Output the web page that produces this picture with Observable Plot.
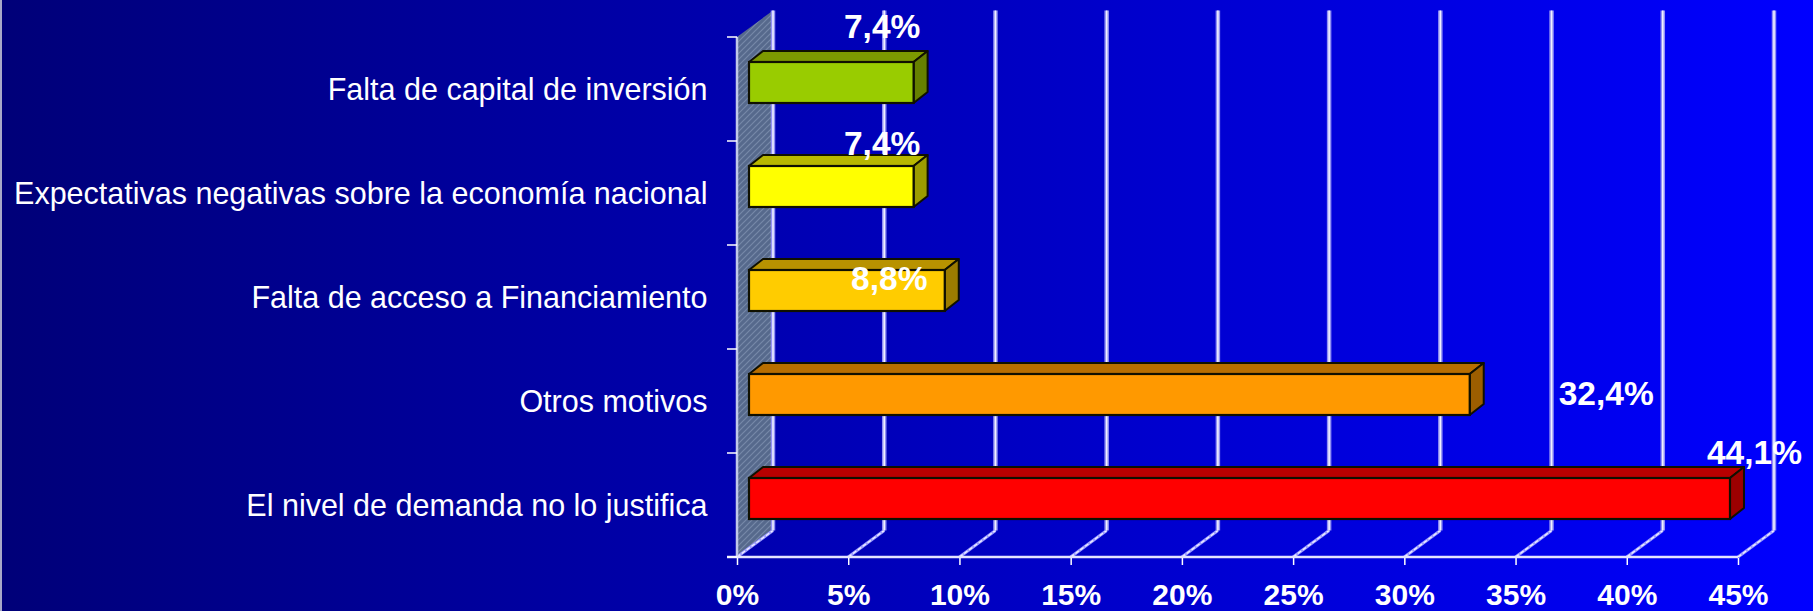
<!DOCTYPE html>
<html><head><meta charset="utf-8">
<script src="https://cdn.jsdelivr.net/npm/d3@7"></script>
<script src="https://cdn.jsdelivr.net/npm/@observablehq/plot@0.6"></script>
<style>
html,body{margin:0;padding:0;overflow:hidden;background:linear-gradient(to right,#000078,#0000ff);}
#chart svg{display:block;}
</style></head><body><div id="chart"></div>
<script>
// ---- data ----
const categories = [
  "Falta de capital de inversión",
  "Expectativas negativas sobre la economía nacional",
  "Falta de acceso a Financiamiento",
  "Otros motivos",
  "El nivel de demanda no lo justifica"
];
const values = [7.4, 7.4, 8.8, 32.4, 44.1];
const valueLabels = ["7,4%", "7,4%", "8,8%", "32,4%", "44,1%"];
const xTicks = [0, 5, 10, 15, 20, 25, 30, 35, 40, 45];
const xTickLabels = ["0%", "5%", "10%", "15%", "20%", "25%", "30%", "35%", "40%", "45%"];

// ---- styles ----
const frontColors = ["#99cc00", "#ffff00", "#ffcc00", "#ff9900", "#ff0000"];
const topColors   = ["#7d9900", "#b8b800", "#b89200", "#b86e00", "#b80000"];
const sideColors  = ["#668000", "#9c9c00", "#9c7c00", "#9c5e00", "#9c0000"];
// label nudges (px) relative to bar end / band centre, as placed in the original
const labelNudge = [[-20, -52], [-20, -38.5], [-44, -8], [148, 3], [36, -42]];

const WALL = {dx: 36, dy: -26.5};
const BAR = {dx: 12, dy: -6.5, h: 41, tdx: 14, tdy: -11};

const rows = categories.map((c, i) => ({category: c, value: values[i], label: valueLabels[i]}));

function scene(index, scales, channels, dims) {
  const x = scales.x, y = scales.y;
  const bw = typeof y.bandwidth === "function" ? y.bandwidth() : y.bandwidth;
  const yTop = y(categories[0]);
  const yBot = y(categories[categories.length - 1]) + bw;
  const x0 = x(0);
  const g = d3.create("svg:g");
  const defs = g.append("defs");
  const pat = defs.append("pattern").attr("id", "wallHatch").attr("patternUnits", "userSpaceOnUse")
    .attr("width", 6).attr("height", 6);
  pat.append("rect").attr("width", 6).attr("height", 6).attr("fill", "#56698c");
  pat.append("path").attr("d", "M0,6 L6,0 M-1.5,1.5 L1.5,-1.5 M4.5,7.5 L7.5,4.5")
    .attr("stroke", "#7688a8").attr("stroke-width", 1.2);

  // left thin border
  g.append("rect").attr("x", 0).attr("y", 0).attr("width", 2).attr("height", dims.height).attr("fill", "#a8a8c8");

  // side wall
  g.append("polygon")
    .attr("points", [[x0, yTop], [x0 + WALL.dx, yTop + WALL.dy], [x0 + WALL.dx, yBot + WALL.dy], [x0, yBot]].map(p => p.join(",")).join(" "))
    .attr("fill", "url(#wallHatch)");

  // gridlines
  for (const t of xTicks) {
    const xt = x(t);
    g.append("line").attr("x1", xt).attr("y1", yBot).attr("x2", xt + WALL.dx).attr("y2", yBot + WALL.dy)
      .attr("stroke", "#9c9cff").attr("stroke-width", 3);
    g.append("line").attr("x1", xt).attr("y1", yBot).attr("x2", xt + WALL.dx).attr("y2", yBot + WALL.dy)
      .attr("stroke", "#f0f0ff").attr("stroke-width", 1.3).attr("stroke-dasharray", "4 2");
    g.append("line").attr("x1", xt + WALL.dx).attr("y1", yBot + WALL.dy).attr("x2", xt + WALL.dx).attr("y2", yTop + WALL.dy)
      .attr("stroke", "#9090f4").attr("stroke-width", 4.5);
    g.append("line").attr("x1", xt + WALL.dx).attr("y1", yBot + WALL.dy).attr("x2", xt + WALL.dx).attr("y2", yTop + WALL.dy)
      .attr("stroke", "#f0f0ff").attr("stroke-width", 1.6);
  }
  g.append("line").attr("x1", x0).attr("y1", yTop).attr("x2", x0).attr("y2", yBot)
    .attr("stroke", "#c0c8e8").attr("stroke-width", 2.5);
  g.append("line").attr("x1", x0 - 10).attr("y1", yBot).attr("x2", x(45)).attr("y2", yBot)
    .attr("stroke", "#e4e4ff").attr("stroke-width", 2.5);
  for (let i = 0; i <= categories.length; i++) {
    const yy = yTop + i * bw;
    g.append("line").attr("x1", x0 - 10).attr("y1", yy).attr("x2", x0).attr("y2", yy)
      .attr("stroke", "white").attr("stroke-width", 1.5);
  }
  // 3D bars
  categories.forEach((c, i) => {
    const cy = y(c) + bw / 2 + BAR.dy;
    const top = cy - BAR.h / 2, bot = cy + BAR.h / 2;
    const l = x0 + BAR.dx, r = x(values[i]) + BAR.dx;
    const pts = a => a.map(p => p.join(",")).join(" ");
    g.append("polygon").attr("points", pts([[l, top], [l + BAR.tdx, top + BAR.tdy], [r + BAR.tdx, top + BAR.tdy], [r, top]]))
      .attr("fill", topColors[i]).attr("stroke", "#101000").attr("stroke-width", 2).attr("stroke-linejoin", "round");
    g.append("polygon").attr("points", pts([[r, top], [r + BAR.tdx, top + BAR.tdy], [r + BAR.tdx, bot + BAR.tdy], [r, bot]]))
      .attr("fill", sideColors[i]).attr("stroke", "#101000").attr("stroke-width", 2).attr("stroke-linejoin", "round");
    g.append("rect").attr("x", l).attr("y", top).attr("width", r - l).attr("height", BAR.h)
      .attr("fill", frontColors[i]).attr("stroke", "#101000").attr("stroke-width", 2.2);
  });
  return g.node();
}

const labelMarks = rows.map((d, i) => Plot.text([d], {
  x: "value", y: "category", text: "label",
  dx: labelNudge[i][0], dy: labelNudge[i][1],
  textAnchor: "middle", lineAnchor: "bottom",
  fill: "white", fontSize: 33.5, fontWeight: "bold"
}));

const chart = Plot.plot({
  width: 1813, height: 611,
  marginLeft: 737, marginRight: 75, marginTop: 35, marginBottom: 53,
  style: {
    background: "linear-gradient(to right, #000078 0%, #0000ff 100%)",
    color: "white",
    fontFamily: "'Liberation Sans', Arial, sans-serif",
    overflow: "visible"
  },
  x: {domain: [0, 45]},
  y: {type: "band", domain: categories, padding: 0},
  marks: [
    scene,
    ...labelMarks,
    Plot.axisX({
      ticks: xTicks, tickFormat: d => xTickLabels[xTicks.indexOf(d)],
      tickSize: 7, tickPadding: 18, fontSize: 30, fontWeight: "bold",
      label: null, strokeWidth: 1.5
    }),
    Plot.axisY({
      ticks: categories, tickSize: 0, tickPadding: 30, fontSize: 30.5,
      label: null, dy: 1
    })
  ]
});
document.getElementById("chart").appendChild(chart);
</script>
</body></html>
